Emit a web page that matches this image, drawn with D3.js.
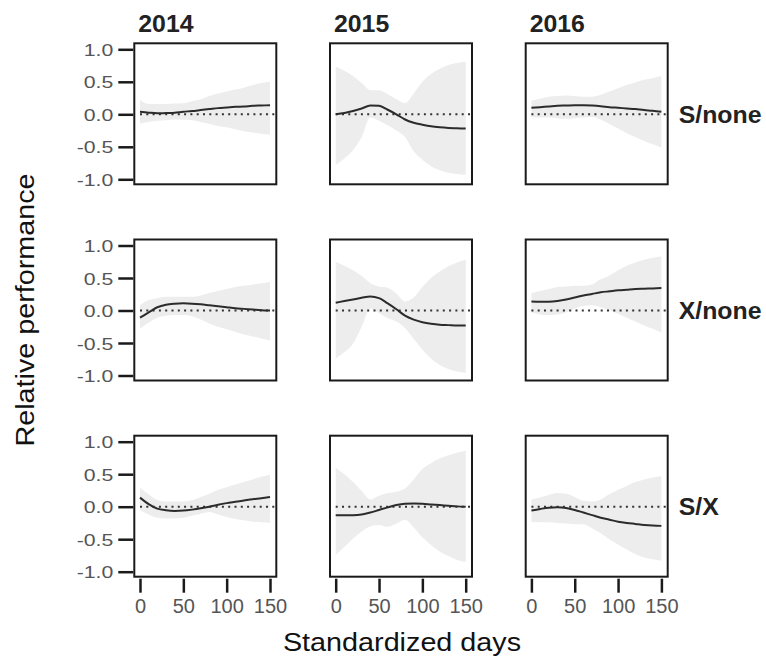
<!DOCTYPE html>
<html>
<head>
<meta charset="utf-8">
<script src="https://cdn.jsdelivr.net/npm/d3@7.9.0/dist/d3.min.js"></script>
<style>
  body { margin: 0; background: #fff; }
  svg { display: block; font-family: "Liberation Sans", Arial, sans-serif; }
</style>
</head>
<body>
<svg id="chart" width="766" height="658"></svg>
<script>
const days = [0, 10, 20, 30, 40, 50, 60, 70, 80, 90, 100, 110, 120, 130, 140, 150];
const years = ['2014', '2015', '2016'];
const contrasts = ['S/none', 'X/none', 'S/X'];
const yTicks = [-1, -0.5, 0, 0.5, 1];
const xTicks = [0, 50, 100, 150];

// S/none
const fitSnone2014 = [0.04, 0.025, 0.015, 0.02, 0.025, 0.04, 0.05, 0.065, 0.08, 0.095, 0.105, 0.115, 0.12, 0.13, 0.135, 0.14];
const hiSnone2014  = [0.22, 0.16, 0.16, 0.16, 0.165, 0.17, 0.2, 0.23, 0.28, 0.32, 0.35, 0.38, 0.41, 0.45, 0.48, 0.5];
const loSnone2014  = [-0.14, -0.12, -0.1, -0.09, -0.08, -0.085, -0.09, -0.12, -0.15, -0.18, -0.2, -0.23, -0.26, -0.28, -0.3, -0.31];
const fitSnone2015 = [0, 0.02, 0.05, 0.09, 0.135, 0.13, 0.07, 0, -0.08, -0.13, -0.16, -0.185, -0.2, -0.21, -0.215, -0.22];
const hiSnone2015  = [0.73, 0.67, 0.59, 0.48, 0.37, 0.37, 0.31, 0.23, 0.17, 0.32, 0.5, 0.62, 0.7, 0.76, 0.79, 0.81];
const loSnone2015  = [-0.78, -0.68, -0.55, -0.35, -0.05, -0.1, -0.17, -0.25, -0.35, -0.57, -0.7, -0.8, -0.86, -0.9, -0.92, -0.93];
const fitSnone2016 = [0.1, 0.11, 0.12, 0.13, 0.135, 0.14, 0.14, 0.135, 0.125, 0.11, 0.1, 0.09, 0.08, 0.065, 0.055, 0.04];
const hiSnone2016  = [0.21, 0.24, 0.27, 0.28, 0.29, 0.28, 0.27, 0.27, 0.3, 0.35, 0.4, 0.45, 0.49, 0.53, 0.56, 0.59];
const loSnone2016  = [-0.04, -0.05, -0.05, -0.06, -0.07, -0.06, -0.05, -0.04, -0.08, -0.15, -0.22, -0.29, -0.35, -0.41, -0.46, -0.51];

// X/none
const fitXnone2014 = [-0.11, -0.03, 0.05, 0.09, 0.105, 0.11, 0.105, 0.095, 0.08, 0.065, 0.05, 0.035, 0.025, 0.015, 0.005, 0];
const hiXnone2014  = [0.08, 0.16, 0.19, 0.21, 0.21, 0.21, 0.21, 0.23, 0.27, 0.3, 0.33, 0.36, 0.38, 0.4, 0.42, 0.44];
const loXnone2014  = [-0.28, -0.19, -0.11, -0.08, -0.07, -0.07, -0.09, -0.14, -0.2, -0.25, -0.29, -0.33, -0.37, -0.4, -0.43, -0.46];
const fitXnone2015 = [0.12, 0.145, 0.17, 0.195, 0.215, 0.19, 0.11, 0.02, -0.08, -0.14, -0.18, -0.205, -0.22, -0.225, -0.23, -0.23];
const hiXnone2015  = [0.75, 0.69, 0.62, 0.53, 0.42, 0.37, 0.35, 0.26, 0.14, 0.2, 0.36, 0.5, 0.6, 0.68, 0.74, 0.78];
const loXnone2015  = [-0.74, -0.64, -0.51, -0.25, 0.03, -0.04, -0.12, -0.17, -0.27, -0.44, -0.6, -0.74, -0.84, -0.9, -0.94, -0.96];
const fitXnone2016 = [0.14, 0.135, 0.135, 0.145, 0.17, 0.2, 0.23, 0.255, 0.28, 0.295, 0.31, 0.32, 0.33, 0.335, 0.34, 0.345];
const hiXnone2016  = [0.27, 0.3, 0.33, 0.36, 0.37, 0.38, 0.38, 0.4, 0.48, 0.54, 0.62, 0.69, 0.74, 0.78, 0.81, 0.83];
const loXnone2016  = [-0.03, -0.06, -0.07, -0.06, -0.03, 0.03, 0.07, 0.08, 0.05, 0, -0.05, -0.11, -0.17, -0.23, -0.28, -0.34];

// S/X
const fitSX2014 = [0.14, 0.04, -0.03, -0.055, -0.065, -0.06, -0.045, -0.025, 0, 0.03, 0.055, 0.075, 0.095, 0.115, 0.13, 0.15];
const hiSX2014  = [0.29, 0.19, 0.1, 0.08, 0.08, 0.08, 0.1, 0.15, 0.2, 0.26, 0.3, 0.34, 0.38, 0.42, 0.46, 0.49];
const loSX2014  = [-0.05, -0.12, -0.17, -0.18, -0.18, -0.17, -0.14, -0.11, -0.08, -0.12, -0.16, -0.19, -0.21, -0.23, -0.24, -0.25];
const fitSX2015 = [-0.13, -0.13, -0.13, -0.12, -0.09, -0.05, -0.01, 0.025, 0.045, 0.05, 0.045, 0.035, 0.025, 0.015, 0.005, 0];
const hiSX2015  = [0.6, 0.5, 0.38, 0.24, 0.11, 0.17, 0.21, 0.23, 0.28, 0.42, 0.58, 0.67, 0.74, 0.79, 0.83, 0.86];
const loSX2015  = [-0.74, -0.62, -0.49, -0.38, -0.3, -0.28, -0.31, -0.26, -0.2, -0.32, -0.47, -0.59, -0.69, -0.76, -0.82, -0.85];
const fitSX2016 = [-0.06, -0.035, -0.015, -0.01, -0.02, -0.05, -0.09, -0.13, -0.17, -0.2, -0.23, -0.25, -0.265, -0.28, -0.29, -0.295];
const hiSX2016  = [0.11, 0.14, 0.18, 0.21, 0.2, 0.15, 0.09, 0.08, 0.11, 0.19, 0.26, 0.32, 0.38, 0.42, 0.45, 0.47];
const loSX2016  = [-0.23, -0.24, -0.24, -0.25, -0.26, -0.27, -0.27, -0.33, -0.41, -0.5, -0.58, -0.66, -0.73, -0.78, -0.81, -0.83];

// rows = contrasts, cols = years
const panelData = [
  [[fitSnone2014, loSnone2014, hiSnone2014], [fitSnone2015, loSnone2015, hiSnone2015], [fitSnone2016, loSnone2016, hiSnone2016]],
  [[fitXnone2014, loXnone2014, hiXnone2014], [fitXnone2015, loXnone2015, hiXnone2015], [fitXnone2016, loXnone2016, hiXnone2016]],
  [[fitSX2014, loSX2014, hiSX2014], [fitSX2015, loSX2015, hiSX2015], [fitSX2016, loSX2016, hiSX2016]]
];

const svg = d3.select('#chart');

// panel geometry
const panelW = 142, panelH = 141;
const left0 = 134.3, top0 = 43.3;
const stepX = 195.7, stepY = 196.2;

const x = d3.scaleLinear().domain([0, 150]).range([5.7, 135.7]);
const y = d3.scaleLinear().domain([-1, 1]).range([136, 6]);

const area = d3.area()
  .x((d) => x(d.day))
  .y0((d) => y(d.lo))
  .y1((d) => y(d.hi))
  .curve(d3.curveMonotoneX);

const line = d3.line()
  .x((d) => x(d.day))
  .y((d) => y(d.fit))
  .curve(d3.curveMonotoneX);

panelData.forEach((row, r) => {
  row.forEach(([fit, lo, hi], c) => {
    const pts = days.map((day, i) => ({ day: day, fit: fit[i], lo: lo[i], hi: hi[i] }));
    const g = svg.append('g')
      .attr('transform', `translate(${left0 + c * stepX},${top0 + r * stepY})`);

    g.append('path')
      .attr('d', area(pts))
      .attr('fill', '#ededed');

    // zero reference
    g.append('line')
      .attr('x1', x(0)).attr('x2', panelW)
      .attr('y1', y(0)).attr('y2', y(0))
      .attr('stroke', '#333')
      .attr('stroke-width', 2)
      .attr('stroke-dasharray', '2,4.3');

    g.append('path')
      .attr('d', line(pts))
      .attr('fill', 'none')
      .attr('stroke', '#2b2b2b')
      .attr('stroke-width', 2);

    g.append('rect')
      .attr('width', panelW).attr('height', panelH)
      .attr('fill', 'none')
      .attr('stroke', '#1a1a1a')
      .attr('stroke-width', 2);

    if (c === 0) {
      const ax = g.append('g')
        .attr('transform', 'translate(-1,0)')
        .call(d3.axisLeft(y).tickValues(yTicks).tickFormat(d3.format('.1f')).tickSize(15).tickPadding(4));
      ax.select('.domain').remove();
      ax.selectAll('.tick line').attr('stroke', '#1a1a1a').attr('stroke-width', 2.5);
      ax.selectAll('.tick text')
        .attr('x', null).attr('dy', '0.36em')
        .attr('transform', 'translate(-20,0) scale(1.25,1)')
        .attr('font-size', 17)
        .attr('fill', '#555')
        .text((d) => d3.format('.1f')(d).replace('−', '-'));
    }

    if (r === 2) {
      const ax = g.append('g')
        .attr('transform', `translate(0,${panelH + 2})`)
        .call(d3.axisBottom(x).tickValues(xTicks).tickSize(14).tickPadding(6));
      ax.select('.domain').remove();
      ax.selectAll('.tick line').attr('stroke', '#1a1a1a').attr('stroke-width', 2.5);
      ax.selectAll('.tick text')
        .attr('font-size', 20)
        .attr('fill', '#555');
    }

    if (r === 0) {
      g.append('text')
        .attr('transform', 'translate(4,-11) scale(1.08,1)')
        .attr('font-size', 23)
        .attr('font-weight', 'bold')
        .attr('fill', '#222')
        .text(years[c]);
    }

    if (c === 2) {
      g.append('text')
        .attr('transform', `translate(${panelW + 11},${y(0) + 8.5}) scale(1.08,1)`)
        .attr('font-size', 23)
        .attr('font-weight', 'bold')
        .attr('fill', '#222')
        .text(contrasts[r]);
    }
  });
});

svg.append('text')
  .attr('transform', 'translate(402,651) scale(1.15,1)')
  .attr('text-anchor', 'middle')
  .attr('font-size', 25)
  .attr('fill', '#111')
  .text('Standardized days');

svg.append('text')
  .attr('transform', 'translate(34,310) rotate(-90) scale(1.15,1)')
  .attr('text-anchor', 'middle')
  .attr('font-size', 25)
  .attr('fill', '#111')
  .text('Relative performance');
</script>
</body>
</html>
